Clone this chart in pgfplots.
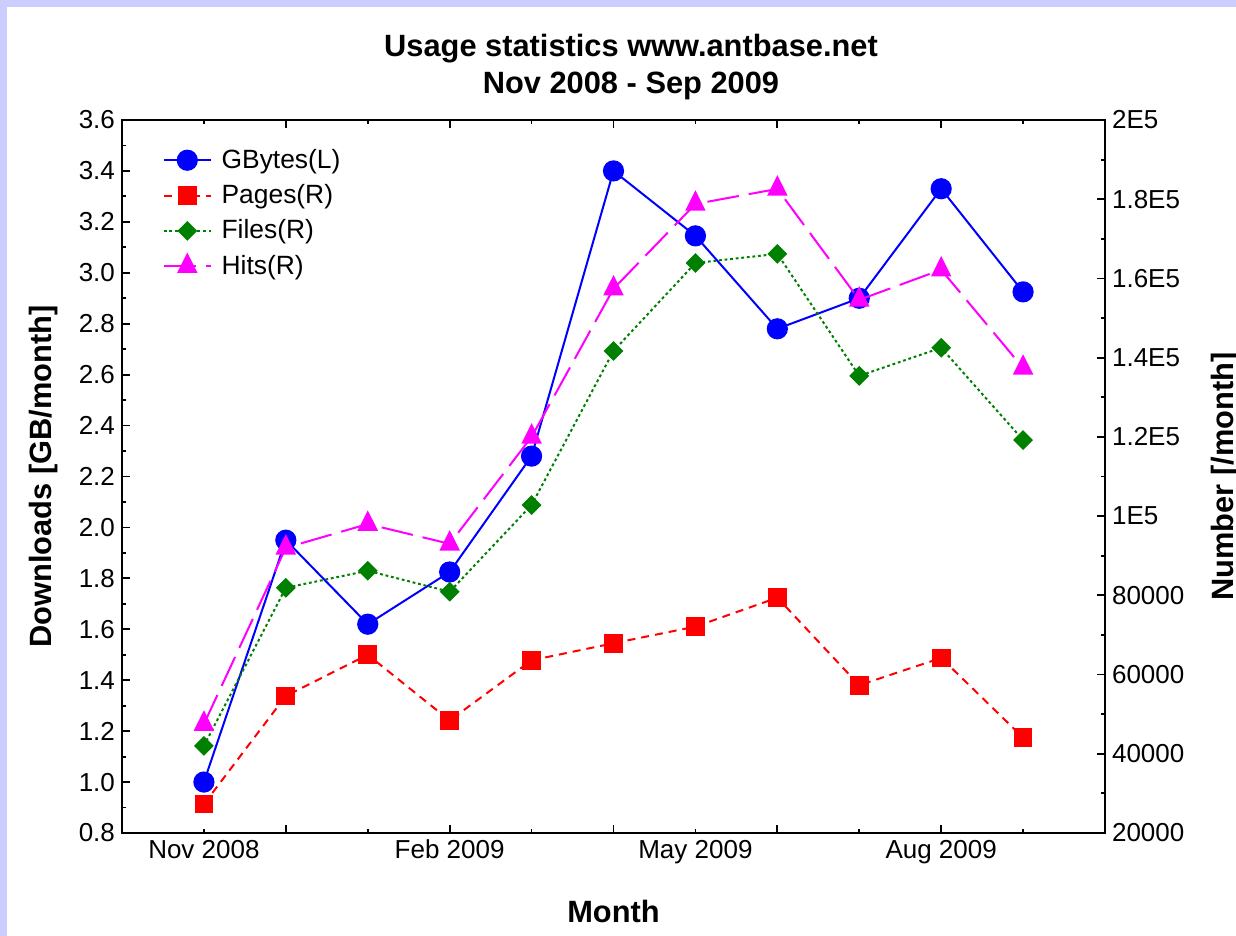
\documentclass[border=0pt]{standalone}
\usepackage{fontspec}
\setmainfont{Liberation Sans}
\usepackage{pgfplots}
\pgfplotsset{compat=1.18}
\definecolor{framebg}{RGB}{204,204,255}
\definecolor{fgreen}{RGB}{0,128,0}
\definecolor{fmagenta}{RGB}{255,0,255}

% shared look of both axes (1 px of the reference = 0.5pt)
\pgfplotsset{
  common/.style={
    scale only axis, width=491.5pt, height=356.5pt,
    at={(61pt,51.5pt)}, anchor=south west,
    xmin=-1, xmax=11,
    major tick length=3.8pt, minor tick length=1.8pt,
    every tick/.append style={black, line width=0.9pt},
    axis line style={line width=1.1pt},
    tick label style={font=\fontsize{13}{15}\selectfont},
    label style={font=\bfseries\fontsize{15.4}{18}\selectfont},
    legend image code/.code={%
      \draw[mark repeat=2,mark phase=2,##1]
        plot coordinates {(0pt,0pt) (11.75pt,0pt) (23.5pt,0pt)};},
  },
  gb/.style={blue, line width=1pt, mark=*, mark size=4.8pt},
  pages/.style={red, line width=1pt, dash pattern=on 4pt off 3pt,
    mark=square*, mark size=4.2pt, mark options={solid}},
  files/.style={fgreen, line width=1pt, dash pattern=on 1.4pt off 1.4pt,
    mark=square*, mark size=3pt, mark options={solid, rotate=45}},
  hits/.style={fmagenta, line width=1pt, dash pattern=on 16pt off 5pt,
    mark=triangle*, mark size=5pt, mark options={solid, yscale=1.15}},
}

\begin{document}
\begin{tikzpicture}
\useasboundingbox (0,0) rectangle (618pt,468pt);
\fill[framebg] (0,0) rectangle (618pt,468pt);
\fill[white] (3.5pt,0) rectangle (618pt,464.5pt);

% left axis: GBytes
\begin{axis}[common,
  tick align=inside,
  ymin=0.8, ymax=3.6,
  ytick={0.8,1.0,1.2,1.4,1.6,1.8,2.0,2.2,2.4,2.6,2.8,3.0,3.2,3.4,3.6},
  yticklabels={0.8,1.0,1.2,1.4,1.6,1.8,2.0,2.2,2.4,2.6,2.8,3.0,3.2,3.4,3.6},
  minor y tick num=1,
  ytick pos=left,
  xtick={1,3,5,7,9},
  xticklabels={,,,,},
  minor xtick={0,2,4,6,8,10},
  extra x ticks={0,3,6,9},
  extra x tick labels={Nov 2008,Feb 2009,May 2009,Aug 2009},
  extra x tick style={major tick length=0pt},
  xlabel={Month},
  xlabel style={at={(0.5,-0.1094)}, anchor=center},
  ylabel={Downloads [GB/month]},
  ylabel style={at={(-0.0800,0.5)}, anchor=center},
]
\addplot[gb] coordinates {
  (0,1.00) (1,1.95) (2,1.62) (3,1.825) (4,2.28) (5,3.40)
  (6,3.145) (7,2.78) (8,2.90) (9,3.33) (10,2.925)
};
\end{axis}

% right axis: Pages, Files, Hits
\begin{axis}[common,
  axis x line=none, axis y line*=right,
  every outer y axis line/.append style={-},
  tick align=inside,
  ymin=20000, ymax=200000,
  ytick={20000,40000,60000,80000,100000,120000,140000,160000,180000,200000},
  yticklabels={20000,40000,60000,80000,1E5,1.2E5,1.4E5,1.6E5,1.8E5,2E5},
  scaled y ticks=false,
  minor y tick num=1,
  ylabel={Number [/month]},
  ylabel style={at={(1.123,0.5)}, anchor=center},
  legend cell align=left,
  legend style={draw=none, fill=none, at={(0.035,0.972)}, anchor=north west,
    font=\fontsize{13.2}{15}\selectfont, row sep=1.8pt, column sep=2.5pt,
    nodes={inner sep=2.4pt}},
]
\addlegendimage{gb}
\addlegendentry{GBytes(L)}
\addplot[pages] coordinates {
  (0,27300) (1,54600) (2,65000) (3,48400) (4,63600) (5,67900)
  (6,72100) (7,79400) (8,57300) (9,64200) (10,44100)
};
\addlegendentry{Pages(R)}
\addplot[files] coordinates {
  (0,42000) (1,81900) (2,86200) (3,80900) (4,102800) (5,141700)
  (6,163900) (7,166200) (8,135400) (9,142500) (10,119200)
};
\addlegendentry{Files(R)}
\addplot[hits] coordinates {
  (0,47500) (1,92000) (2,98000) (3,93000) (4,120000) (5,157400)
  (6,178800) (7,182600) (8,154600) (9,162200) (10,137400)
};
\addlegendentry{Hits(R)}
\end{axis}

\node[align=center, font=\bfseries\fontsize{15.4}{18.5}\selectfont]
  at (315.5pt,434.4pt) {Usage statistics www.antbase.net\\Nov 2008 - Sep 2009};
\end{tikzpicture}
\end{document}
